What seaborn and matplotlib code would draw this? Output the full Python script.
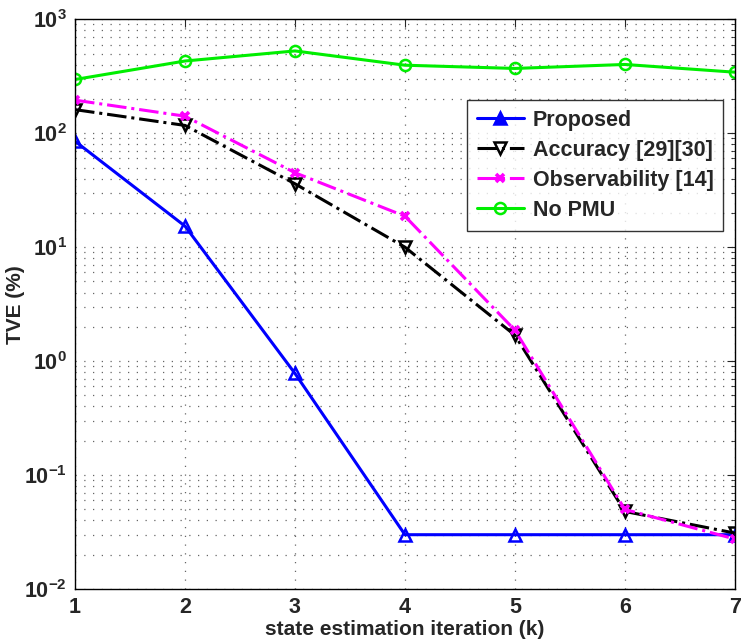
import numpy as np
import pandas as pd
import seaborn as sns
import matplotlib
matplotlib.use("Agg")
import matplotlib.pyplot as plt
from matplotlib.ticker import LogLocator

# Data
iterations = [1, 2, 3, 4, 5, 6, 7]
proposed = [85, 15.3, 0.78, 0.030, 0.030, 0.030, 0.030]
accuracy = [161, 117, 36, 10.0, 1.69, 0.048, 0.031]
observability = [195, 141, 45, 18.7, 1.87, 0.050, 0.0275]
no_pmu = [296, 430, 527, 395, 370, 401, 343]

series_names = ["Proposed", "Accuracy [29][30]", "Observability [14]", "No PMU"]
series_values = [proposed, accuracy, observability, no_pmu]

# Styles per series
colors = ["#0000ff", "#000000", "#ff00ff", "#00ee00"]
markers = ["^", "v", "x", "o"]
linestyles = ["-", "-.", "-.", "-"]
marker_sizes = [9, 9, 6, 8]
edge_widths = [1.8, 1.8, 2.6, 1.8]

sns.set_style("white")
plt.rcParams["font.family"] = ["Liberation Sans", "DejaVu Sans"]
plt.rcParams["font.weight"] = "bold"
plt.rcParams["mathtext.fontset"] = "custom"
plt.rcParams["mathtext.rm"] = "Liberation Sans:bold"
plt.rcParams["mathtext.bf"] = "Liberation Sans:bold"
plt.rcParams["mathtext.default"] = "bf"

fig = plt.figure(figsize=(7.43, 6.41), dpi=100)
ax = fig.add_axes([0.101, 0.081, 0.888, 0.889])

for name, vals, c, m, ls, ms, mew in zip(series_names, series_values, colors, markers,
                                         linestyles, marker_sizes, edge_widths):
    df = pd.DataFrame({"k": iterations, "tve": vals})
    sns.lineplot(data=df, x="k", y="tve", ax=ax, color=c, linestyle=ls, linewidth=2.2,
                 marker=m, markersize=ms, markerfacecolor="none",
                 markeredgecolor=c, markeredgewidth=mew, label=name)

ax.set_yscale("log")
ax.set_xlim(1, 7)
ax.set_ylim(1e-2, 1e3)
ax.set_xticks(iterations)
ax.yaxis.set_major_locator(LogLocator(base=10, numticks=10))
ax.yaxis.set_minor_locator(LogLocator(base=10, subs=np.arange(2, 10), numticks=20))

# MATLAB-like dotted grid
ax.grid(True, which="major", axis="both", linestyle=(0, (1, 6)), color="#666666", linewidth=0.9)
ax.grid(True, which="minor", axis="y", linestyle=(0, (1, 6)), color="#666666", linewidth=0.9)
ax.set_axisbelow(True)

ax.tick_params(axis="both", which="both", direction="in", labelsize=15.5, top=True, right=True)
ax.tick_params(axis="both", which="major", length=6, pad=6)
ax.tick_params(axis="y", which="minor", length=3)
for lab in ax.get_xticklabels() + ax.get_yticklabels():
    lab.set_fontweight("bold")

for sp in ax.spines.values():
    sp.set_color("black")
    sp.set_linewidth(1.0)

ax.set_xlabel("state estimation iteration (k)", fontsize=15, fontweight="bold", labelpad=1)
ax.set_ylabel("TVE (%)", fontsize=15, fontweight="bold")
ax.yaxis.set_label_coords(-0.076, 0.5)

leg = ax.legend(loc="upper left", bbox_to_anchor=(0.594, 0.858), fontsize=15.5,
                frameon=True, fancybox=False, edgecolor="black", handlelength=2.2,
                borderpad=0.45, labelspacing=0.42, handletextpad=0.4, borderaxespad=0)
leg.get_frame().set_linewidth(1.0)
for t in leg.get_texts():
    t.set_fontweight("bold")
# legend marker for Proposed is filled in the reference
leg.get_lines()[0].set_markerfacecolor("#0000ff")

fig.savefig("out.png", dpi=100)
